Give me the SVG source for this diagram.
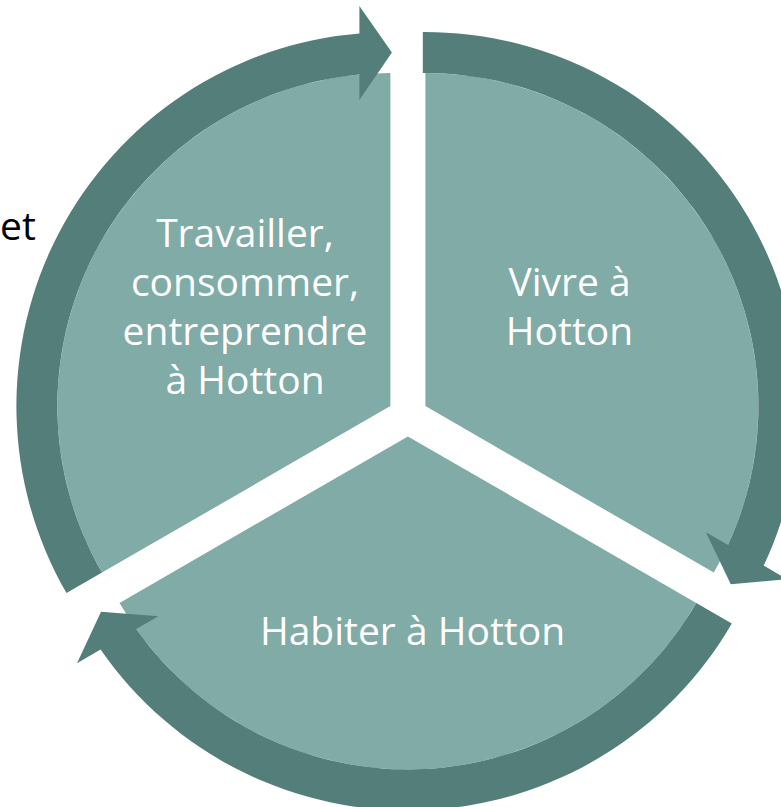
<svg xmlns="http://www.w3.org/2000/svg" width="781" height="807" viewBox="0 0 781 807">
  <style>
    .seg { fill: #80ABA7; }
    .arr { fill: #537E7A; }
    .lbl { font-family: "Open Sans", "Liberation Sans", sans-serif; font-size: 39px; fill: #FFFFFF; text-anchor: middle; }
    .note { font-family: "Open Sans", "Liberation Sans", sans-serif; font-size: 39px; fill: #000000; }
  </style>
  <rect width="781" height="807" fill="#FFFFFF"/>
  <text class="note" x="0" y="240">et</text>
  <g id="node-travailler">
    <path class="seg" d="M390.4,406.1 L102.0,572.6 A333,333 0 0,1 390.4,73.1 Z"/>
    <text class="lbl" x="245" y="246.7">Travailler,</text>
    <text class="lbl" x="245" y="295.7">consommer,</text>
    <text class="lbl" x="245" y="344.7">entreprendre</text>
    <text class="lbl" x="245" y="393.7">à Hotton</text>
  </g>
  <g id="node-vivre">
    <path class="seg" d="M425.4,406.1 L425.4,73.1 A333,333 0 0,1 713.8,572.6 Z"/>
    <text class="lbl" x="569.5" y="295.7">Vivre à</text>
    <text class="lbl" x="569.5" y="344.5">Hotton</text>
  </g>
  <g id="node-habiter">
    <path class="seg" d="M407.9,436.4 L696.3,602.9 A333,333 0 0,1 119.5,602.9 Z"/>
    <text class="lbl" x="412.5" y="645">Habiter à Hotton</text>
  </g>
  <g id="connectors">
    <path class="arr" d="M66.5,593.1 A374,374 0 0,1 359.4,33.4 L359.4,6.1 L391.9,52.6 L359.4,100.1 L359.4,74.55 A333,333 0 0,0 102.0,572.6 Z"/>
    <path class="arr" d="M422.8,32.1 A374,374 0 0,1 763.7,565.6 L787.3,579.3 L730.8,584.2 L705.9,532.3 L728.0,545.1 A333,333 0 0,0 422.8,73.1 Z"/>
    <path class="arr" d="M731.8,623.4 A374,374 0 0,1 100.6,649.6 L77.0,663.25 L101.05,611.85 L158.4,616.25 L136.3,629.05 A333,333 0 0,0 696.3,602.9 Z"/>
  </g>
</svg>
